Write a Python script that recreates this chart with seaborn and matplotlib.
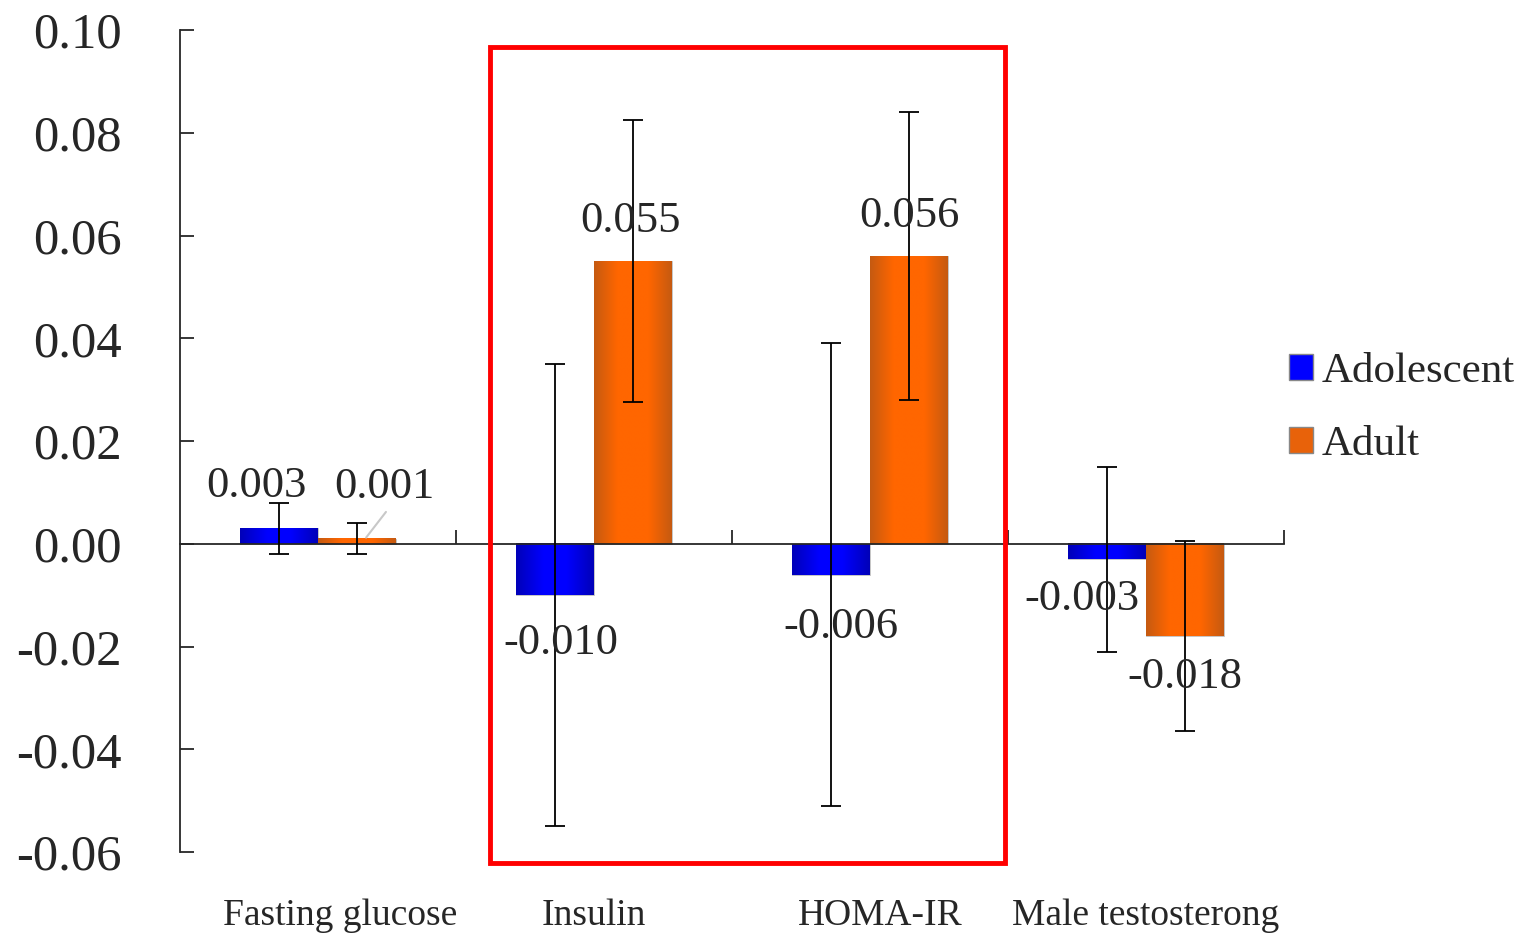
import matplotlib
matplotlib.use("Agg")
import matplotlib.pyplot as plt
import seaborn as sns
import numpy as np
import pandas as pd
from matplotlib.colors import LinearSegmentedColormap
from matplotlib.patches import Patch, Rectangle

categories = ["Fasting glucose", "Insulin", "HOMA-IR", "Male testosterong"]
groups = ["Adolescent", "Adult"]
adolescent = [0.003, -0.010, -0.006, -0.003]
adult = [0.001, 0.055, 0.056, -0.018]
adolescent_err = [0.005, 0.045, 0.045, 0.018]
adult_err = [0.003, 0.0275, 0.028, 0.0185]
adolescent_labels = ["0.003", "-0.010", "-0.006", "-0.003"]
adult_labels = ["0.001", "0.055", "0.056", "-0.018"]

df = pd.DataFrame({
    "category": categories * 2,
    "group": ["Adolescent"] * 4 + ["Adult"] * 4,
    "value": adolescent + adult,
})

sns.set_style("white")
plt.rcParams["font.family"] = ["Liberation Serif", "DejaVu Serif"]

fig = plt.figure(figsize=(15.28, 9.33), dpi=100)
ax = fig.add_axes([0.1178, 0.0868, 0.8403 - 0.1178, 0.9678 - 0.0868])

palette = {"Adolescent": "#0000FF", "Adult": "#FF6600"}
sns.barplot(data=df, x="category", y="value", hue="group", order=categories,
            hue_order=groups, palette=palette, width=0.565, errorbar=None,
            saturation=1, legend=False, ax=ax)

# gradient fill like the original (dark edges, bright middle)
cmaps = {
    "Adolescent": LinearSegmentedColormap.from_list(
        "b", [(0, "#0000B8"), (0.35, "#0000FF"), (0.65, "#0000FF"), (1, "#0000B8")]),
    "Adult": LinearSegmentedColormap.from_list(
        "o", [(0, "#C55A11"), (0.3, "#FF6600"), (0.7, "#FF6600"), (1, "#C55A11")]),
}
grad = np.linspace(0, 1, 256).reshape(1, -1)
errs = {"Adolescent": adolescent_err, "Adult": adult_err}
vals = {"Adolescent": adolescent, "Adult": adult}
centers = {}
for container, g in zip(ax.containers, groups):
    xs = []
    for bar in container:
        x, y = bar.get_x(), bar.get_y()
        w, h = bar.get_width(), bar.get_height()
        bar.set_facecolor("none")
        bar.set_edgecolor("#BBBBBB")
        bar.set_linewidth(0.6)
        ax.imshow(grad, extent=[x, x + w, y, y + h], cmap=cmaps[g],
                  aspect="auto", zorder=1.5, interpolation="bilinear")
        xs.append(x + w / 2)
    centers[g] = xs
    ax.errorbar(xs, vals[g], yerr=errs[g], fmt="none", ecolor="black",
                elinewidth=1.3, capsize=7, capthick=1.3, zorder=3)

# value labels
lab_off = {
    "Adolescent": [(-0.08, 0.0082), (0.02, -0.0094), (0.035, -0.0102), (-0.089, -0.0077)],
    "Adult": [(0.10, 0.0100), (-0.01, 0.00775), (0.0, 0.00775), (0.0, -0.0079)],
}
for g, labs in (("Adolescent", adolescent_labels), ("Adult", adult_labels)):
    for i, t in enumerate(labs):
        dx, dy = lab_off[g][i]
        ax.text(centers[g][i] + dx, vals[g][i] + dy, t, ha="center",
                va="center", fontsize=32, zorder=4)
ax.plot([centers["Adult"][0] + 0.033, centers["Adult"][0] + 0.105],
        [0.0012, 0.0062], color="#C8C8C8", lw=1.5, zorder=2.8)

# axes styling
ax.set_xlim(-0.5, 3.5)
ax.set_ylim(-0.06, 0.10)
ax.set_yticks(np.arange(-0.06, 0.1001, 0.02))
ax.set_yticklabels([f"{v:.2f}" for v in np.arange(-0.06, 0.1001, 0.02)])
ax.tick_params(axis="y", direction="in", length=10, width=1.3, labelsize=36.5,
               pad=42, left=True)
for lab in ax.get_yticklabels():
    lab.set_va("center_baseline")
ax.spines["top"].set_visible(False)
ax.spines["right"].set_visible(False)
ax.spines["left"].set_linewidth(1.3)
ax.spines["bottom"].set_position(("data", 0))
ax.spines["bottom"].set_linewidth(1.3)
ax.set_xticks([0.5, 1.5, 2.5, 3.5])
ax.set_xticklabels([])
ax.tick_params(axis="x", direction="in", length=10, width=1.3, bottom=True)
ax.set_xlabel("")
ax.set_ylabel("")
cat_dx = [0.08, 0.0, 0.036, 0.0]
for i, c in enumerate(categories):
    ax.text(i + cat_dx[i], -0.0725, c, ha="center", va="center", fontsize=27)

# red highlight box
ax.add_patch(Rectangle((0.623, -0.0621), 2.489 - 0.623, 0.0967 + 0.0621,
                       fill=False, edgecolor="#FF0000", lw=3.5, clip_on=False,
                       zorder=5))

handles = [Patch(facecolor="#0000FF", edgecolor="#888888", label="Adolescent"),
           Patch(facecolor="#E8620A", edgecolor="#888888", label="Adult")]
fig.legend(handles=handles, loc="center left", bbox_to_anchor=(0.8185, 0.562),
           frameon=False, fontsize=31, handlelength=0.55, handleheight=0.55,
           handletextpad=0.2, labelspacing=0.8)

fig.savefig("out.png", dpi=100)
